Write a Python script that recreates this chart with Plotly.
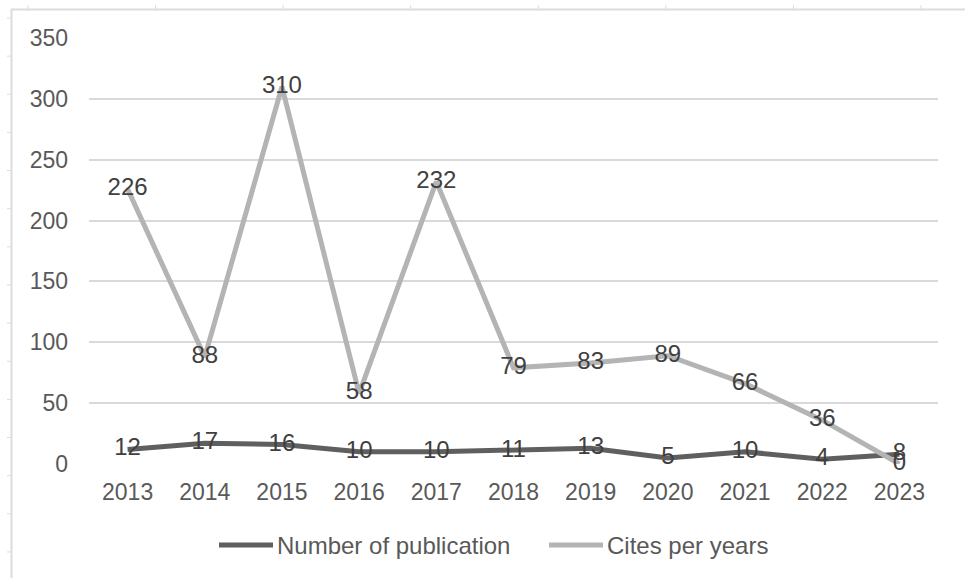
import plotly.graph_objects as go

years = ["2013", "2014", "2015", "2016", "2017", "2018", "2019", "2020", "2021", "2022", "2023"]
publications = [12, 17, 16, 10, 10, 11, 13, 5, 10, 4, 8]
cites = [226, 88, 310, 58, 232, 79, 83, 89, 66, 36, 0]
y_ticks = [0, 50, 100, 150, 200, 250, 300, 350]
series_names = ["Number of publication", "Cites per years"]
series_colors = ["#5f5f5f", "#b4b4b4"]

FONT = "Liberation Sans, Arial, sans-serif"
W, H = 965, 578
L, R, T, B = 89, 27, 38, 114
pw, ph = W - L - R, H - T - B

def px_x(x):
    return (x - L) / pw

def px_y(y):
    return (H - B - y) / ph

fig = go.Figure()
for name, values, color in zip(series_names, [publications, cites], series_colors):
    fig.add_trace(go.Scatter(
        x=years, y=values, name=name,
        mode="lines+text", text=[str(v) for v in values],
        textposition="middle center",
        textfont=dict(size=24, color="#404040", family=FONT),
        line=dict(color=color, width=5),
        showlegend=False,
        cliponaxis=False,
    ))

# frame with ruler ticks around the chart
border = "#dcdcdc"
shapes = [
    dict(type="line", xref="paper", yref="paper", x0=px_x(11), x1=px_x(W), y0=px_y(9.5), y1=px_y(9.5),
         line=dict(color=border, width=2)),
    dict(type="line", xref="paper", yref="paper", x0=px_x(11.5), x1=px_x(11.5), y0=px_y(9), y1=px_y(H),
         line=dict(color=border, width=2)),
]
for i in range(8):
    x = 28 + i * 127.57
    shapes.append(dict(type="line", xref="paper", yref="paper", x0=px_x(x), x1=px_x(x),
                       y0=px_y(5), y1=px_y(9), line=dict(color=border, width=1)))
for i in range(15):
    y = 18 + i * 38.14
    shapes.append(dict(type="line", xref="paper", yref="paper", x0=px_x(7), x1=px_x(11),
                       y0=px_y(y), y1=px_y(y), line=dict(color=border, width=1)))

# legend drawn below the axis: long line swatch followed by the series name
annotations = []
legend_y = 545
for (x0, x1), name, color in zip([(219, 273), (549, 603)], series_names, series_colors):
    shapes.append(dict(type="line", xref="paper", yref="paper", x0=px_x(x0), x1=px_x(x1),
                       y0=px_y(legend_y), y1=px_y(legend_y), line=dict(color=color, width=5)))
    annotations.append(dict(xref="paper", yref="paper", x=px_x(x1 + 2), y=px_y(legend_y),
                            xanchor="left", yanchor="middle", showarrow=False, text=name,
                            font=dict(size=24, color="#595959", family=FONT)))

fig.update_layout(
    width=W, height=H,
    margin=dict(l=L, r=R, t=T, b=B),
    paper_bgcolor="white", plot_bgcolor="white",
    font=dict(family=FONT, size=23, color="#595959"),
    showlegend=False,
    xaxis=dict(type="category", range=[-0.5, 10.5], showgrid=False, zeroline=False,
               showline=False, ticks="", tickfont=dict(size=23, color="#595959"),
               ticklabelstandoff=12, fixedrange=True),
    yaxis=dict(range=[0, 350], tickvals=y_ticks, showgrid=True, gridcolor="#d9d9d9",
               gridwidth=1.5, zeroline=False, showline=False, ticks="",
               tickfont=dict(size=23, color="#595959"), ticklabelstandoff=20),
    shapes=shapes,
    annotations=annotations,
)

fig.write_html("out.html")
